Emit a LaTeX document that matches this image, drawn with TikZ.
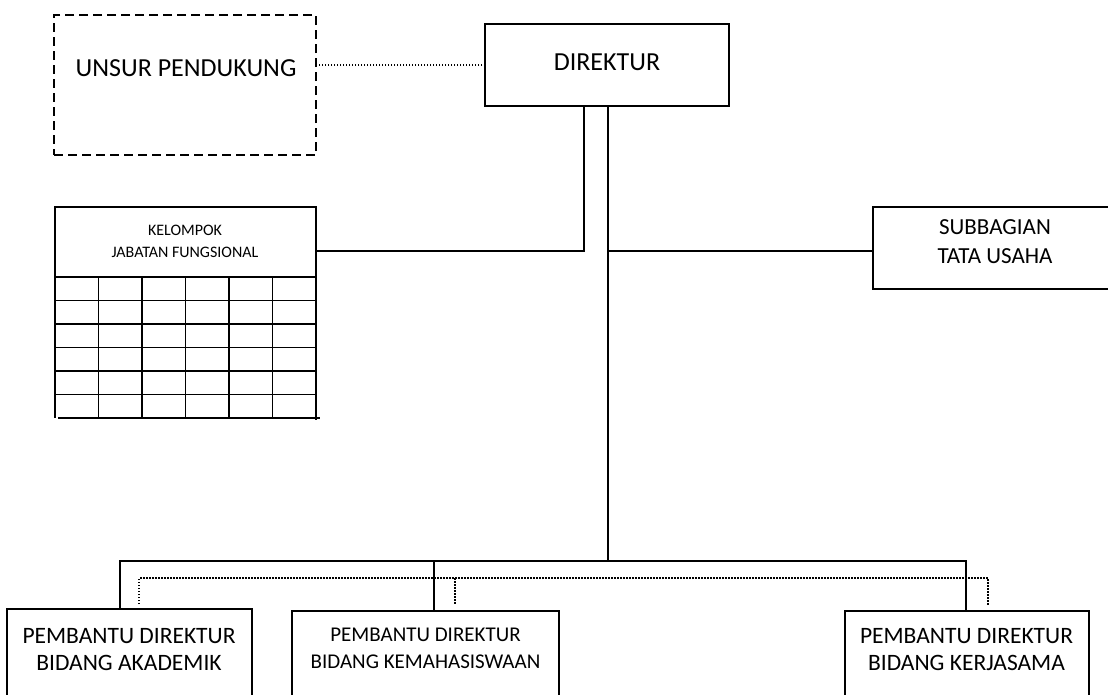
\documentclass[tikz,border=0pt]{standalone}
\usepackage{fontspec}
\setmainfont{Carlito}
\tikzset{
  kotak/.style={draw, line width=1.3pt, inner sep=0pt, outer sep=0pt, anchor=north west},
  garis/.style={line width=1.4pt},
  putus/.style={line width=1.6pt, dash pattern=on 9pt off 5pt},
  titik/.style={line width=1.4pt, dash pattern=on 1.5pt off 1.5pt},
  teks/.style={align=center, inner sep=0pt},
}
\begin{document}
\begin{tikzpicture}[x=1pt,y=-1pt]
	\useasboundingbox (0,0) rectangle (1108,694);
	% kotak-kotak
	\node [kotak, putus, minimum width=262, minimum height=140] (unsur) at (54,15) {};
	\node [kotak, minimum width=244, minimum height=82] (dir) at (485,24) {};
	\node [kotak, minimum width=261, minimum height=70] (kjf) at (55,207) {};
	\node [kotak, minimum width=240, minimum height=82] (sub) at (873,207) {};
	\node [kotak, minimum width=245, minimum height=95] (pd1) at (7,609) {};
	\node [kotak, minimum width=267, minimum height=95] (pd2) at (292,611) {};
	\node [kotak, minimum width=244, minimum height=95] (pd3) at (845,611) {};

	% tulisan
	\node [teks, font=\fontsize{26}{30}\selectfont] (unsur-t) at (186,68) {UNSUR PENDUKUNG};
	\node [teks, font=\fontsize{26}{30}\selectfont] (dir-t) at (607,62) {DIREKTUR};
	\node [teks, font=\fontsize{16}{22}\selectfont] (kjf-t) at (185,241) {KELOMPOK\\JABATAN FUNGSIONAL};
	\node [teks, font=\fontsize{23}{29}\selectfont] (sub-t) at (995,241.5) {SUBBAGIAN\\TATA USAHA};
	\node [teks, font=\fontsize{23.5}{27}\selectfont] (pd1-t) at (129,649.5) {PEMBANTU DIREKTUR\\BIDANG AKADEMIK};
	\node [teks, font=\fontsize{21}{27}\selectfont] (pd2-t) at (425.5,648.5) {PEMBANTU DIREKTUR\\BIDANG KEMAHASISWAAN};
	\node [teks, font=\fontsize{23.5}{27}\selectfont] (pd3-t) at (966.5,649.5) {PEMBANTU DIREKTUR\\BIDANG KERJASAMA};

	% tabel jabatan fungsional
	\foreach \i in {1,...,5}
		\draw [garis] (55,277+23.5*\i) -- (316,277+23.5*\i);
	\foreach \i in {1,...,5}
		\draw [garis] (55+43.5*\i,277) -- (55+43.5*\i,418);
	\draw [garis] (kjf.south west) -- ++(0,141);
	\draw [garis] (kjf.south east) -- ++(0,143);
	\draw [garis] (58,418) -- (320,418);

	% titik simpul
	\coordinate (tki) at (584,251);
	\coordinate (tka) at (608,251);
	\coordinate (bus) at (608,561);
	\coordinate (b1) at (120,561);
	\coordinate (b2) at (434,561);
	\coordinate (b3) at (966,561);
	\coordinate (d1) at (139,578);
	\coordinate (d2) at (455,578);
	\coordinate (d3) at (988,578);
	\coordinate (e1) at (139,604);
	\coordinate (e2) at (455,605);
	\coordinate (e3) at (988,605);

	% garis hubung
	\draw [titik] (dir.west) -- (dir.west -| unsur.east);
	\draw [garis] (dir.south -| tki) -- (tki) -- (tki -| kjf.east);
	\draw [garis] (dir.south -| tka) -- (bus);
	\draw [garis] (tka) -- (tka -| sub.west);
	\draw [garis] (pd1.north -| b1) |- (bus) -| (pd3.north -| b3);
	\draw [garis] (b2) -- (pd2.north -| b2);
	\draw [titik] (e1) |- (d3) -- (e3);
	\draw [titik] (d2) -- (e2);
\end{tikzpicture}
\end{document}
